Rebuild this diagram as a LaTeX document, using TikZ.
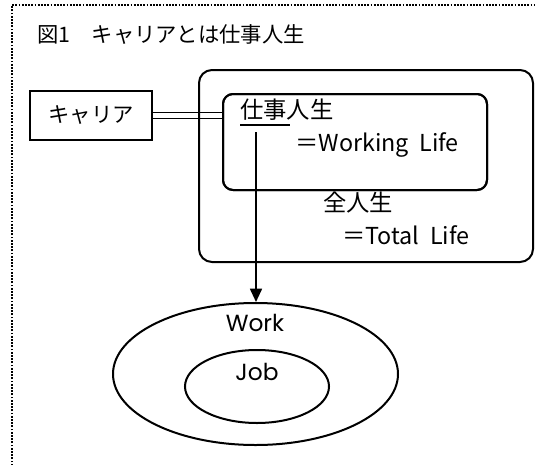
\documentclass[tikz,border=0pt]{standalone}
\usepackage{fontspec}
\setmainfont{Noto Sans CJK JP}
\newfontfamily\geofont{Poppins}
\usetikzlibrary{arrows.meta,shapes.geometric}
\tikzset{
  ln/.style={line width=1.5pt},
  frame/.style={line width=1.5pt, dash pattern=on 1.4pt off 1pt},
  box/.style={draw, line width=1.5pt, rectangle, inner sep=0pt},
  rbox/.style={box, rounded corners=#1},
  oval/.style={draw, ellipse, line width=1.5pt, inner sep=0pt},
  txt/.style={inner sep=0pt, anchor=west, font=\fontsize{17.5}{19}\selectfont},
  geo/.style={inner sep=0pt, font=\geofont\fontsize{17.5}{19}\selectfont},
  dbl/.style={double, line width=1.1pt, double distance=3.6pt},
  arr/.style={line width=1.3pt, -{Triangle[length=10pt,width=9pt]}}
}
\begin{document}
\begin{tikzpicture}[x=0.75pt,y=-0.75pt]
\useasboundingbox (0,0) rectangle (535,464);
\clip (0,0) rectangle (535,464);
\draw[frame] (12,600) -- (12,5) -- (600,5);
\node[txt, font=\fontsize{16}{18}\selectfont] (title) at (37,34) {図1　キャリアとは仕事人生};
\node[box, minimum width=91.5pt, minimum height=36.75pt, font=\fontsize{16}{18}\selectfont] (career) at (91,115.5) {キャリア};
\node[rbox=7.5pt, minimum width=198pt, minimum height=72pt] (inner) at (355,142) {};
\draw[dbl] (career.east) -- (career.east -| inner.west);
\node[rbox=9.75pt, minimum width=250.5pt, minimum height=144pt] (outer) at (366,166) {};
\node[rbox=7.5pt, minimum width=198pt, minimum height=72pt] at (inner) {};
\node[txt] (shigoto) at (240,110) {仕事人生};
\draw[ln] (240,125) -- (290,125);
\node[txt] (wl) at (295,145) {＝Working~~Life};
\node[txt] (zen) at (323,203) {全人生};
\node[txt] (tl) at (342,235) {＝Total~~Life};
\node[oval, minimum width=213.75pt, minimum height=106.5pt] (work) at (255.5,374) {};
\node[oval, minimum width=108pt, minimum height=54.75pt] (job) at (257,386.5) {};
\node[geo] (worklbl) at (255,323) {Work};
\node[geo] (joblbl) at (257,372) {Job};
\coordinate (astart) at (256,132);
\draw[arr] (astart) -- (astart |- work.north);
\end{tikzpicture}
\end{document}
